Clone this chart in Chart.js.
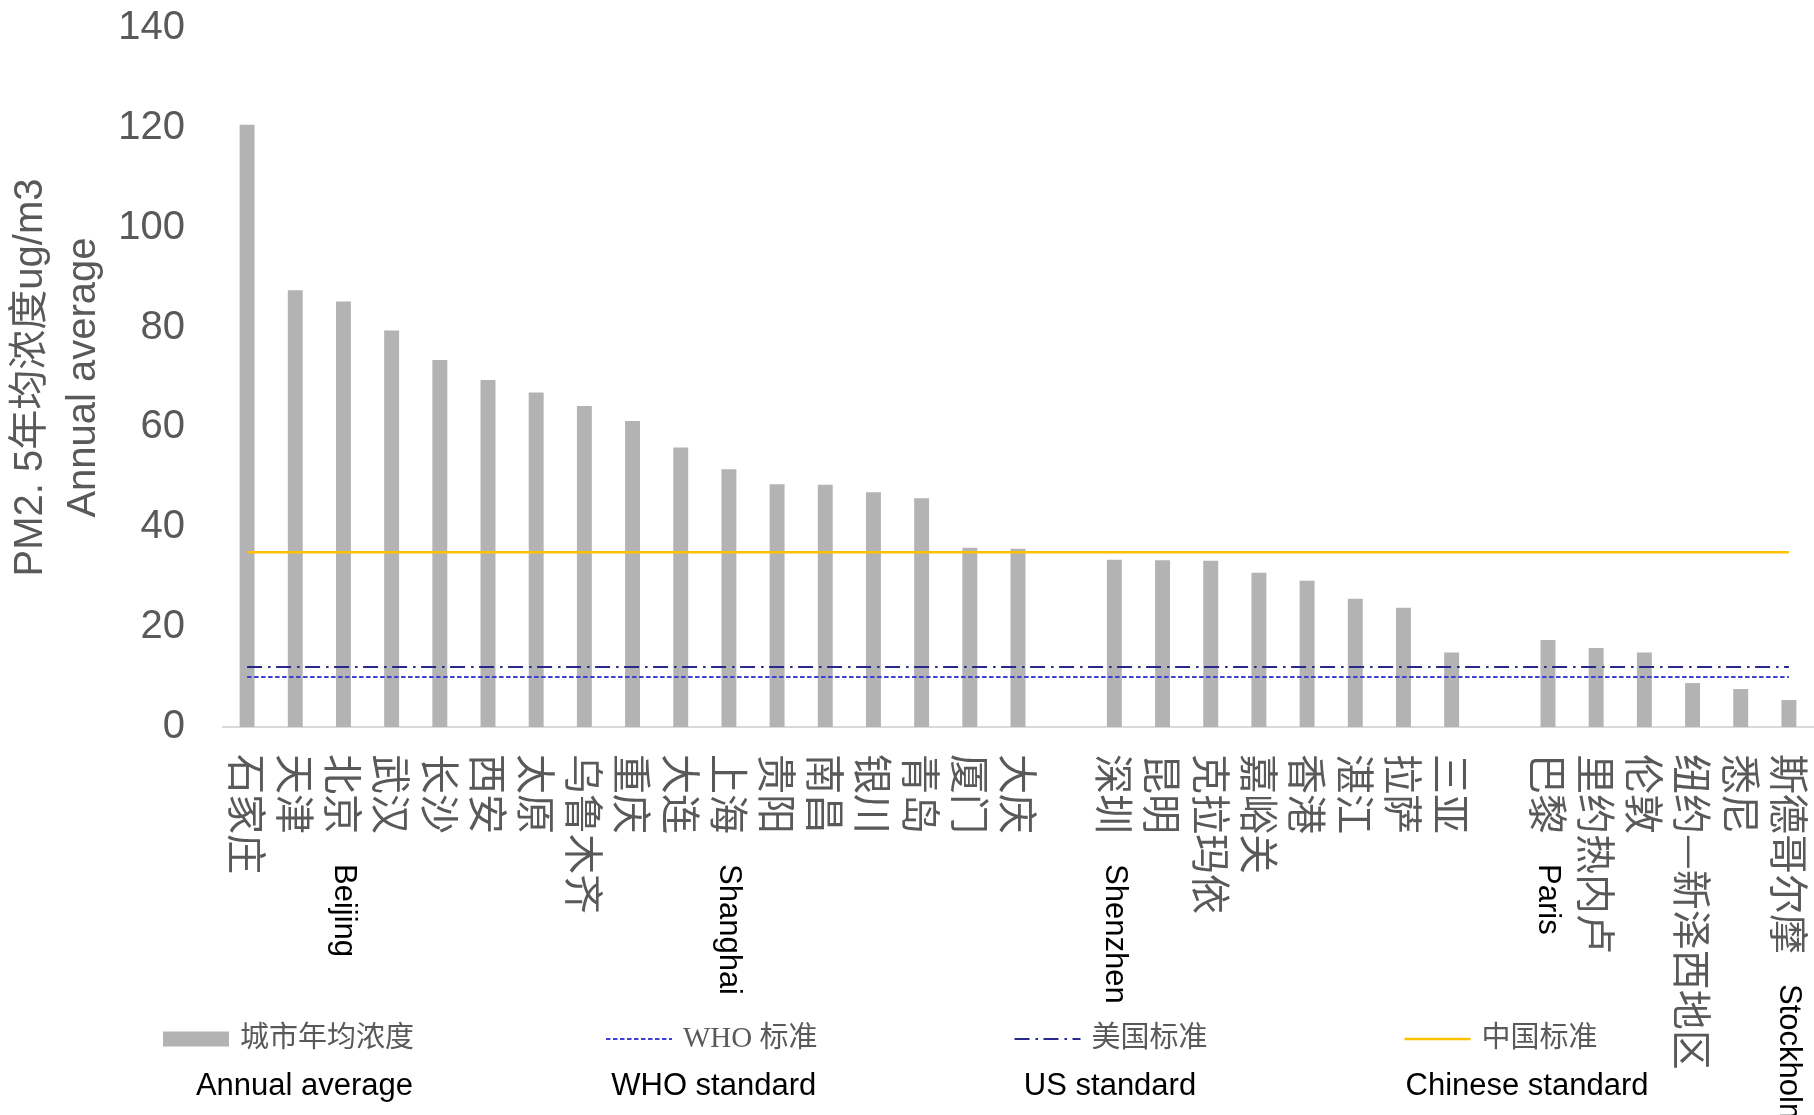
<!DOCTYPE html>
<html>
<head>
<meta charset="utf-8">
<script src="https://cdn.jsdelivr.net/npm/chart.js@4.4.1/dist/chart.umd.min.js"></script>
<style>
  html, body { margin: 0; padding: 0; background: #fff; }
  canvas { display: block; }
</style>
</head>
<body>
<canvas id="pmChart" width="1814" height="1115"></canvas>
<script>
// city names, empty strings are the gaps between the three groups
const cities = [
  "石家庄", "天津", "北京", "武汉", "长沙", "西安", "太原", "乌鲁木齐", "重庆", "大连",
  "上海", "贵阳", "南昌", "银川", "青岛", "厦门", "大庆", "",
  "深圳", "昆明", "克拉玛依", "嘉峪关", "香港", "湛江", "拉萨", "三亚", "",
  "巴黎", "里约热内卢", "伦敦", "纽约—新泽西地区", "悉尼", "斯德哥尔摩",
];
const citiesEn = [
  "", "", "Beijing", "", "", "", "", "", "", "",
  "Shanghai", "", "", "", "", "", "", "",
  "Shenzhen", "", "", "", "", "", "", "", "",
  "Paris", "", "", "", "", "Stockholm",
];
// annual average PM2.5 (ug/m3)
const pmValues = [
  120.6, 87.5, 85.2, 79.4, 73.5, 69.5, 67.0, 64.3, 61.3, 56.0,
  51.6, 48.6, 48.5, 47.0, 45.8, 35.9, 35.7, null,
  33.5, 33.4, 33.3, 30.9, 29.3, 25.7, 23.9, 14.9, null,
  17.4, 15.8, 14.9, 8.8, 7.6, 5.4,
];
// standards
const whoLevel = 10;
const usLevel = 12;
const cnLevel = 35;
const yTickValues = [0, 20, 40, 60, 80, 100, 120, 140];
const legendEn = ["Annual average", "WHO standard", "US standard", "Chinese standard"];

const greyText = "#595959";

// vertical city labels, read top to bottom
const cityLabelsPlugin = {
  id: "cityLabels",
  afterDraw: (chart) => {
    const ctx = chart.ctx;
    const x = chart.scales.x;
    cities.forEach((name, i) => {
      if (!name) return;
      ctx.save();
      ctx.translate(x.getPixelForValue(i), x.top + 27);
      ctx.rotate(Math.PI / 2);
      ctx.textAlign = "left";
      ctx.textBaseline = "middle";
      ctx.font = '40px "Noto Sans CJK SC"';
      ctx.fillStyle = greyText;
      ctx.fillText(name, 0, 0);
      if (citiesEn[i]) {
        const w = ctx.measureText(name).width;
        ctx.font = '31px "Liberation Sans"';
        ctx.fillStyle = "#000";
        ctx.fillText(citiesEn[i], w + 30, 0);
      }
      ctx.restore();
    });
  },
};

// legend row with english captions under it
const captionShift = [16, 2, -1, 26];
const legendPlugin = {
  id: "bottomLegend",
  afterDraw: (chart) => {
    const ctx = chart.ctx;
    const rowY = 1039;
    const capY = 1086;
    let xPos = 163;
    chart.data.datasets.forEach((ds, i) => {
      ctx.save();
      if (ds.type === "line") {
        ctx.strokeStyle = ds.borderColor;
        ctx.lineWidth = ds.borderWidth;
        ctx.setLineDash(ds.borderDash || []);
        ctx.beginPath();
        ctx.moveTo(xPos, rowY);
        ctx.lineTo(xPos + 66, rowY);
        ctx.stroke();
        ctx.setLineDash([]);
      } else {
        ctx.fillStyle = ds.backgroundColor;
        ctx.fillRect(xPos, rowY - 7.5, 66, 15);
      }
      const tx = xPos + 66 + 11;
      ctx.font = '29px "Liberation Serif", "Noto Sans CJK SC"';
      ctx.fillStyle = greyText;
      ctx.textAlign = "left";
      ctx.textBaseline = "middle";
      ctx.fillText(ds.label, tx, rowY);
      const end = tx + ctx.measureText(ds.label).width;
      ctx.font = '31px "Liberation Sans"';
      ctx.fillStyle = "#000";
      ctx.textAlign = "center";
      ctx.fillText(legendEn[i], (xPos + end) / 2 + captionShift[i], capY);
      ctx.restore();
      xPos = end + (i === 0 ? 192 : 197);
    });
  },
};

const data = {
  labels: cities,
  datasets: [
    {
      type: "bar",
      label: "城市年均浓度",
      data: pmValues,
      backgroundColor: "#B3B3B3",
      barPercentage: 0.31,
      categoryPercentage: 1,
      order: 1,
    },
    {
      type: "line",
      label: "WHO 标准",
      data: cities.map(() => whoLevel),
      borderColor: "#4040D0",
      borderWidth: 2,
      borderDash: [4.5, 2.5],
      pointRadius: 0,
      order: 0,
    },
    {
      type: "line",
      label: "美国标准",
      data: cities.map(() => usLevel),
      borderColor: "#28288A",
      borderWidth: 2,
      borderDash: [15, 6, 2.5, 5.5],
      pointRadius: 0,
      order: 0,
    },
    {
      type: "line",
      label: "中国标准",
      data: cities.map(() => cnLevel),
      borderColor: "#FFC000",
      borderWidth: 2.5,
      pointRadius: 0,
      order: 0,
    },
  ],
};

const config = {
  type: "bar",
  data: data,
  options: {
    responsive: false,
    animation: false,
    layout: { padding: { top: 28, right: 1, bottom: 388, left: 0 } },
    plugins: {
      legend: { display: false },
      tooltip: { enabled: false },
    },
    scales: {
      x: {
        grid: { display: false, drawTicks: false },
        ticks: { display: false },
        border: { color: "#D9D9D9", width: 2 },
      },
      y: {
        min: 0,
        max: 140,
        afterBuildTicks: (axis) => {
          axis.ticks = yTickValues.map((v) => ({ value: v }));
        },
        afterFit: (axis) => {
          axis.width = 223;
        },
        // hidden tick marks keep the labels away from the plot
        grid: { display: false, drawTicks: true, tickLength: 35 },
        border: { display: false },
        ticks: {
          color: greyText,
          padding: 3,
          font: { family: '"Liberation Sans"', size: 40 },
        },
        title: {
          display: true,
          text: ["PM2. 5年均浓度ug/m3", "Annual average"],
          color: greyText,
          font: { family: '"Liberation Sans", "Noto Sans CJK SC"', size: 40, lineHeight: 1.33 },
          padding: { top: 4, bottom: 8 },
        },
      },
    },
  },
  plugins: [cityLabelsPlugin, legendPlugin],
};

new Chart(document.getElementById("pmChart"), config);
</script>
</body>
</html>
